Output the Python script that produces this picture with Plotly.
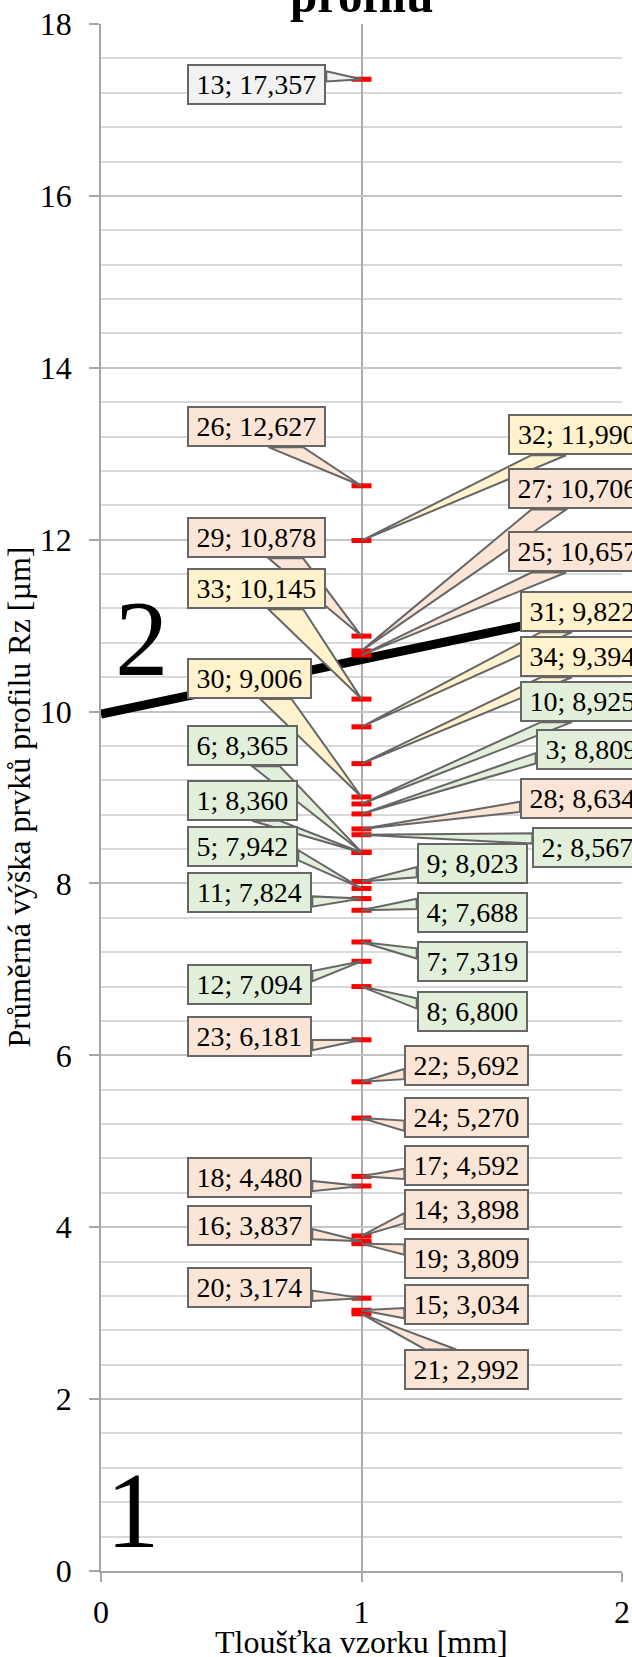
import plotly.graph_objects as go

# ---------------- data ----------------
point_ids = [1, 2, 3, 4, 5, 6, 7, 8, 9, 10, 11, 12, 13, 14, 15, 16, 17,
             18, 19, 20, 21, 22, 23, 24, 25, 26, 27, 28, 29, 30, 31, 32, 33, 34]
thickness_mm = [1, 1, 1, 1, 1, 1, 1, 1, 1, 1, 1, 1, 1, 1, 1, 1, 1,
                1, 1, 1, 1, 1, 1, 1, 1, 1, 1, 1, 1, 1, 1, 1, 1, 1]
rz_um = [8.360, 8.567, 8.809, 7.688, 7.942, 8.365, 7.319, 6.800, 8.023, 8.925,
         7.824, 7.094, 17.357, 3.898, 3.034, 3.837, 4.592, 4.480, 3.809, 3.174,
         2.992, 5.692, 6.181, 5.270, 10.657, 12.627, 10.706, 8.634, 10.878, 9.006,
         9.822, 11.990, 10.145, 9.394]
point_group = ["A", "A", "A", "A", "A", "A", "A", "A", "A", "A", "A", "A", "B",
               "C", "C", "C", "C", "C", "C", "C", "C", "C", "C", "C", "C", "C",
               "C", "C", "C", "D", "D", "D", "D", "D"]

boundary_x = [0, 2]
boundary_y = [9.97, 11.24]

zone_names = ["1", "2"]
zone_x = [0.122, 0.159]
zone_y = [0.07, 10.13]

x_ticks = [0, 1, 2]
y_ticks = [0, 2, 4, 6, 8, 10, 12, 14, 16, 18]

title_text = "profilu"
x_title = "Tloušťka vzorku [mm]"
y_title = "Průměrná výška prvků profilu Rz [µm]"

# ---------------- layout / style ----------------
# label box placement: (left edge of box relative to point [px], box centre dy [px, + = down])
label_place = {
    13: (-174, 5.7), 26: (-174, -59.1), 29: (-174, -98.3), 33: (-174, -110.4),
    30: (-174, -118.5), 32: (146.8, -105.8), 27: (146.8, -161.9), 25: (146.8, -103.1),
    31: (158.5, -115.2), 34: (158.5, -106.9), 10: (158.5, -102.3), 6: (-174, -106.3),
    3: (174.2, -64.2), 1: (-174, -52.2), 28: (158.5, -30.7), 5: (-174, -41.7),
    2: (170.8, 12.3), 9: (55.2, -17.8), 11: (-174, -5.6), 4: (55.2, 2.2),
    7: (55.2, 20.0), 12: (-174, 23.4), 8: (55.2, 25.4), 23: (-174, -3.1),
    22: (42.8, -16.3), 24: (42.8, -0.9), 17: (42.8, -11.0), 18: (-174, -8.5),
    14: (42.8, -26.3), 16: (-174, -15.7), 19: (42.8, 14.4), 20: (-174, -11.0),
    15: (42.8, -5.7), 21: (42.8, 56.1),
}
FILL = {"A": "#E2EFDA", "B": "#F2F2F2", "C": "#FBE5D6", "D": "#FFF2CC"}
BORDER = "#666666"
SERIF = "Liberation Serif, Times New Roman, serif"
LABEL_FONT = 28
BOX_H = 41
BW, BP = 2, 2

W_FIG, H_FIG = 632, 1657
M_L, M_R, M_T, M_B = 101, 10, 24, 86
PW = W_FIG - M_L - M_R
PH = H_FIG - M_T - M_B
X_RANGE = [0, 2]
Y_RANGE = [0, 18]
ppx = PW / (X_RANGE[1] - X_RANGE[0])
ppy = PH / (Y_RANGE[1] - Y_RANGE[0])


def text_em(s):
    w = {";": 0.278, ",": 0.25, " ": 0.25}
    return sum(0.5 if c.isdigit() else w.get(c, 0.5) for c in s)


fig = go.Figure()

fig.add_trace(go.Scatter(
    x=boundary_x, y=boundary_y, mode="lines",
    line=dict(color="black", width=9), hoverinfo="skip", showlegend=False))

fig.add_trace(go.Scatter(
    x=thickness_mm, y=rz_um, mode="markers",
    marker=dict(symbol="line-ew", size=14.3, color="red",
                line=dict(color="red", width=5)),
    showlegend=False))

shapes = []
annotations = []
for pid, t, v, g in zip(point_ids, thickness_mm, rz_um, point_group):
    txt = f"{pid}; " + f"{v:.3f}".replace(".", ",")
    bw = round(text_em(txt) * LABEL_FONT + 19, 1)
    left, dy = label_place[pid]
    cx = left + bw / 2.0
    cy = dy
    top = cy - BOX_H / 2.0
    dxp, dyp = -cx, -cy
    if abs(dxp) * BOX_H > abs(dyp) * bw:
        xe = left if dxp < 0 else left + bw
        f1, f2 = (7, 10) if dyp > 0 else (2, 5)
        b1 = (xe, top + BOX_H * f1 / 12.0)
        b2 = (xe, top + BOX_H * f2 / 12.0)
    else:
        ye = top if dyp < 0 else top + BOX_H
        f1, f2 = (7, 10) if dxp > 0 else (2, 5)
        b1 = (left + bw * f1 / 12.0, ye)
        b2 = (left + bw * f2 / 12.0, ye)

    def to_data(p):
        return t + p[0] / ppx, v - p[1] / ppy

    p1 = to_data(b1)
    p2 = to_data(b2)
    shapes.append(dict(
        type="path", xref="x", yref="y", layer="above",
        path=f"M {p1[0]:.5f},{p1[1]:.5f} L {p2[0]:.5f},{p2[1]:.5f} L {t},{v} Z",
        fillcolor=FILL[g], line=dict(color=BORDER, width=2)))
    annotations.append(dict(
        x=t, y=v, xref="x", yref="y", text=txt, showarrow=False,
        xanchor="center", yanchor="middle", xshift=cx, yshift=-cy,
        width=bw - 2 * (BW + BP), height=BOX_H - 2 * (BW + BP),
        bgcolor=FILL[g], bordercolor=BORDER, borderwidth=BW, borderpad=BP,
        font=dict(family=SERIF, size=LABEL_FONT, color="black")))

for name, zx, zy, zs in zip(zone_names, zone_x, zone_y, [-7, 0]):
    annotations.append(dict(
        x=zx, y=zy, xref="x", yref="y", text=name, showarrow=False,
        xanchor="center", yanchor="bottom", yshift=zs,
        font=dict(family=SERIF, size=107, color="black")))

annotations.append(dict(
    x=0.5, y=1, xref="paper", yref="paper", text=f"<b>{title_text}</b>",
    showarrow=False, xanchor="center", yanchor="bottom", yshift=-1.3,
    font=dict(family=SERIF, size=49, color="black")))
annotations.append(dict(
    x=0.5, y=0, xref="paper", yref="paper", text=x_title, showarrow=False,
    xanchor="center", yanchor="top", yshift=-51,
    font=dict(family=SERIF, size=32, color="black")))
annotations.append(dict(
    x=0, y=0.5, xref="paper", yref="paper", text=y_title, showarrow=False,
    xanchor="center", yanchor="middle", xshift=-83, textangle=-90,
    font=dict(family=SERIF, size=32, color="black")))

fig.update_layout(
    width=W_FIG, height=H_FIG,
    margin=dict(l=M_L, r=M_R, t=M_T, b=M_B, pad=0, autoexpand=False),
    paper_bgcolor="white", plot_bgcolor="white",
    showlegend=False,
    shapes=shapes, annotations=annotations,
    xaxis=dict(
        range=X_RANGE, tickvals=x_ticks, ticktext=[str(v) for v in x_ticks],
        automargin=False,
        showgrid=True, gridcolor="#ABABAB", gridwidth=1.5,
        showline=True, linecolor="#A6A6A6", linewidth=1.5, zeroline=False,
        ticks="outside", ticklen=9, tickwidth=1.5, tickcolor="#A6A6A6",
        ticklabelstandoff=3,
        tickfont=dict(family=SERIF, size=32, color="black"), fixedrange=True),
    yaxis=dict(
        range=Y_RANGE, tickvals=y_ticks, ticktext=[str(v) for v in y_ticks],
        automargin=False,
        showgrid=True, gridcolor="#C4C4C4", gridwidth=1.5,
        minor=dict(dtick=0.4, tick0=0, showgrid=True, gridcolor="#D9D9D9",
                   gridwidth=1.5, ticks=""),
        showline=True, linecolor="#A6A6A6", linewidth=1.5, zeroline=False,
        ticks="outside", ticklen=10, tickwidth=1.5, tickcolor="#A6A6A6",
        ticklabelstandoff=11,
        tickfont=dict(family=SERIF, size=32, color="black"), fixedrange=True),
)

fig.write_html(
    "out.html",
    config={"displayModeBar": False, "responsive": False},
    post_script="document.body.style.margin='0';document.body.style.overflow='hidden';",
)
